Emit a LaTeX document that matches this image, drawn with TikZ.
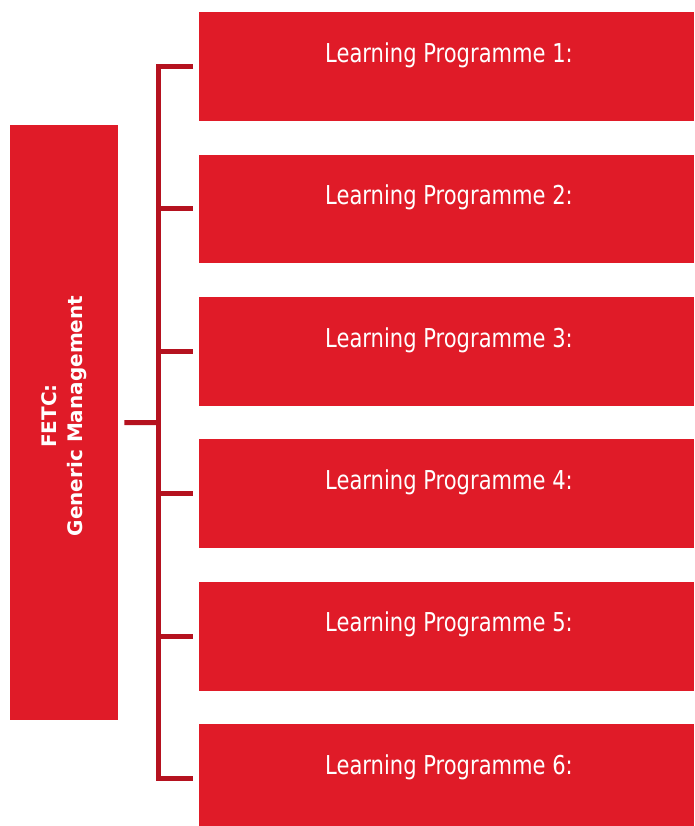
\documentclass[tikz,border=0pt]{standalone}
\usepackage{fontspec}
\setmainfont{DejaVu Sans}
\newfontfamily\lpfont[FakeStretch=0.81]{DejaVu Sans}
\newfontfamily\fetcfont{DejaVu Sans}
\definecolor{boxred}{RGB}{224,27,40}
\definecolor{linered}{RGB}{181,18,31}
\tikzset{
  lpbox/.style={fill=boxred, draw=none, anchor=north west, minimum width=495pt, minimum height=108.7pt, inner sep=0pt},
  lptext/.style={text=white, font=\lpfont\fontsize{26}{31}\selectfont, anchor=base},
  conn/.style={draw=linered, line width=5pt, line join=miter},
}
\begin{document}
\begin{tikzpicture}[x=1pt,y=-1pt]
\clip (0,0) rectangle (694,826);
\fill[white] (0,0) rectangle (694,826);
% left box
\node[fill=boxred, draw=none, anchor=north west, minimum width=108pt, minimum height=595pt, inner sep=0pt] (fetc) at (10,125) {};
\node[rotate=90, align=center, text=white, font=\fetcfont\bfseries\fontsize{20}{26}\selectfont] (fetctext) at (64,416) {FETC:\\Generic Management};
% right boxes
\foreach \i/\y in {1/12, 2/154.4, 3/296.8, 4/439.2, 5/581.6, 6/724.0} {
  \node[lpbox] (lp\i) at (199,\y) {};
  \node[lptext] (lpt\i) at (449,\y+50.3) {Learning Programme \i:};
}
% connectors
\coordinate (hub) at (158.5,422.5);
\draw[conn] ([xshift=-6pt]lp1.west) -| (hub) |- ([xshift=-6pt]lp6.west);
\foreach \i in {2,3,4,5} {
  \draw[conn] (hub |- lp\i.west) -- ([xshift=-6pt]lp\i.west);
}
\draw[conn] ([xshift=6pt]fetc.east) -- (hub);
\end{tikzpicture}
\end{document}
